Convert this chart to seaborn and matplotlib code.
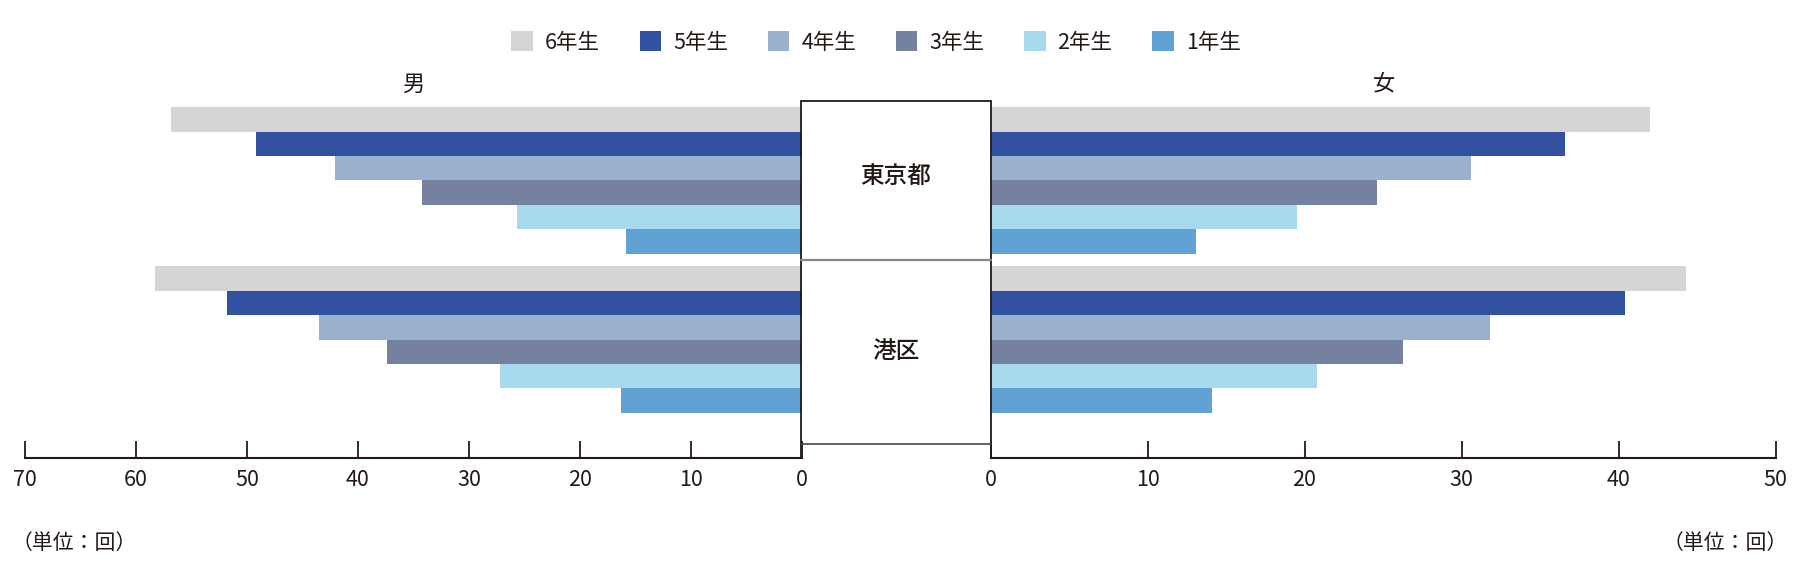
import matplotlib
matplotlib.use("Agg")
import matplotlib.pyplot as plt
import seaborn as sns
import pandas as pd
import numpy as np
from matplotlib.patches import Patch
from matplotlib.lines import Line2D
from matplotlib import font_manager

# ---- data ----
areas = ["東京都", "港区"]
grades = ["6年生", "5年生", "4年生", "3年生", "2年生", "1年生"]
colors = ["#d5d5d5", "#3252a1", "#9bafce", "#74829f", "#a8d8ee", "#60a2d4"]
male_tokyo = [56.8, 49.2, 42.1, 34.2, 25.7, 15.8]
male_minato = [58.3, 51.8, 43.5, 37.4, 27.2, 16.3]
female_tokyo = [42.0, 36.6, 30.6, 24.6, 19.5, 13.1]
female_minato = [44.3, 40.4, 31.8, 26.3, 20.8, 14.1]
left_ticks = [0, 10, 20, 30, 40, 50, 60, 70]
right_ticks = [0, 10, 20, 30, 40, 50]


def long_df(tokyo, minato):
    rows = []
    for g, v in zip(grades, tokyo):
        rows.append({"area": areas[0], "grade": g, "value": v})
    for g, v in zip(grades, minato):
        rows.append({"area": areas[1], "grade": g, "value": v})
    return pd.DataFrame(rows)


df_m = long_df(male_tokyo, male_minato)
df_f = long_df(female_tokyo, female_minato)

sns.set_style("white")
plt.rcParams["font.family"] = ["Noto Sans CJK JP", "DejaVu Sans"]

installed = {f.name for f in font_manager.fontManager.ttflist}
num_family = ["Liberation Sans Narrow"] if "Liberation Sans Narrow" in installed else ["Noto Sans CJK JP"]
num_size = 18 if num_family[0] == "Liberation Sans Narrow" else 15.5

W, H = 1800, 587
fig = plt.figure(figsize=(W / 100, H / 100), dpi=100)


def fx(x):
    return x / W


def fy(y):
    return 1 - y / H


ax_top, ax_bot = 100.0, 458.3
ylim = (1.747, -0.506)
bar_w = 0.921
text_c = "#231815"

axL = fig.add_axes([fx(25), fy(ax_bot), fx(801.7) - fx(25), (ax_bot - ax_top) / H])
axR = fig.add_axes([fx(990.5), fy(ax_bot), fx(1775.5) - fx(990.5), (ax_bot - ax_top) / H])

for ax, df, lim, ticks in [(axL, df_m, (70, 0), left_ticks), (axR, df_f, (0, 50), right_ticks)]:
    sns.barplot(data=df, x="value", y="area", hue="grade", hue_order=grades,
                order=areas, palette=colors, orient="h", width=bar_w,
                saturation=1, ax=ax, legend=False, errorbar=None,
                edgecolor="none", linewidth=0)
    ax.set_xlim(*lim)
    ax.set_ylim(*ylim)
    ax.set_xticks(ticks)
    ax.set_xticklabels([str(t) for t in ticks], family=num_family, fontsize=num_size)
    ax.set_yticks([])
    ax.set_xlabel("")
    ax.set_ylabel("")
    for s in ["top", "left", "right"]:
        ax.spines[s].set_visible(False)
    ax.spines["bottom"].set_color(text_c)
    ax.spines["bottom"].set_linewidth(1.5)
    ax.tick_params(axis="x", direction="in", length=12, width=1.3, color=text_c,
                   pad=8, labelcolor=text_c, bottom=True)
    ax.set_facecolor("none")

# central box
bx0, bx1 = 801.2, 990.5
for xx in (bx0, bx1):
    fig.add_artist(Line2D([fx(xx), fx(xx)], [fy(100.7), fy(458.3)], transform=fig.transFigure,
                          color=text_c, lw=1.3))
fig.add_artist(Line2D([fx(bx0), fx(bx1)], [fy(100.7), fy(100.7)], transform=fig.transFigure,
                      color=text_c, lw=1.3))
fig.add_artist(Line2D([fx(bx0), fx(bx1)], [fy(444), fy(444)], transform=fig.transFigure,
                      color="#4a4443", lw=1.2))
fig.add_artist(Line2D([fx(bx0), fx(bx1)], [fy(260), fy(260)], transform=fig.transFigure,
                      color="#8c8784", lw=1.6))
fig.text(fx(895.8), fy(177), "東京都", ha="center", va="center", fontsize=17,
         fontweight="medium", color=text_c)
fig.text(fx(895.8), fy(351), "港区", ha="center", va="center", fontsize=17,
         fontweight="medium", color=text_c)

# side labels
fig.text(fx(413), fy(84), "男", ha="center", va="center", fontsize=16, color=text_c)
fig.text(fx(1384), fy(84), "女", ha="center", va="center", fontsize=16, color=text_c)

# units
fig.text(fx(12), fy(543), "（単位：回）", ha="left", va="center", fontsize=15, color=text_c)
fig.text(fx(1788), fy(543), "（単位：回）", ha="right", va="center", fontsize=15, color=text_c)

# legend
handles = [Patch(facecolor=c, edgecolor="none", label=g) for g, c in zip(grades, colors)]
fig.legend(handles=handles, loc="center", bbox_to_anchor=(fx(876), fy(42.5)), ncol=6,
           frameon=False, fontsize=15.5, handlelength=1.0, handleheight=1.0,
           handletextpad=0.55, columnspacing=1.85, labelcolor=text_c)

fig.savefig("out.png", dpi=100)
